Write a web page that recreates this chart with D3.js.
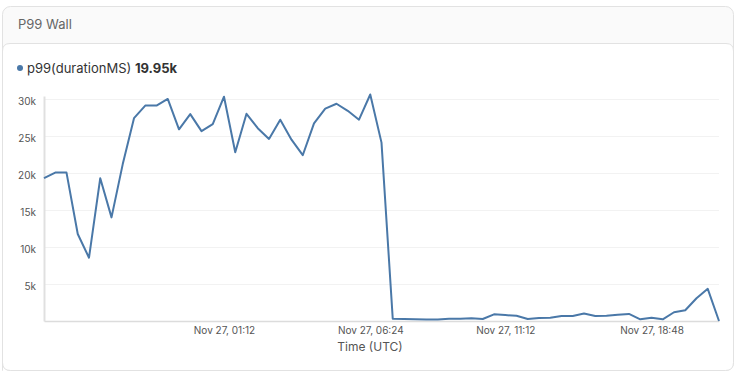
<!DOCTYPE html>
<html>
<head>
<meta charset="utf-8">
<script src="https://cdn.jsdelivr.net/npm/d3@7"></script>
<style>
  body { margin: 0; background: #fff; font-family: Inter, "Open Sans", sans-serif; }
  svg { display: block; }
</style>
</head>
<body>
<div id="chart"></div>
<script>
// valeurs p99 (ms), un point par intervalle
var values = [
  19300, 20050, 20050, 11750, 8550, 19300, 14000, 21200, 27400, 29100,
  29100, 30000, 25900, 27950, 25650, 26600, 30300, 22800, 28000, 26050,
  24600, 27200, 24500, 22400, 26700, 28700, 29350, 28400, 27200, 30600,
  24100, 310, 270, 230, 200, 200, 300, 300, 360, 270,
  900, 800, 700, 270, 400, 450, 680, 680, 1000, 680,
  720, 860, 950, 230, 450, 230, 1180, 1450, 3080, 4350,
  0
];
var xTickIdx = [16, 29, 41, 54];
var xTickLabels = ["Nov 27, 01:12", "Nov 27, 06:24", "Nov 27, 11:12", "Nov 27, 18:48"];
var yTicks = [5000, 10000, 15000, 20000, 25000, 30000];
var yTickLabels = ["5k", "10k", "15k", "20k", "25k", "30k"];

var W = 740, H = 377;
var svg = d3.select("#chart").append("svg").attr("width", W).attr("height", H);

// carte exterieure + entete
svg.append("rect").attr("x", 2.5).attr("y", 6.5).attr("width", 731).attr("height", 364)
  .attr("rx", 8).attr("fill", "#fafafa").attr("stroke", "#e2e2e2");
svg.append("path")
  .attr("d", "M2.5,370.5 L2.5,51 Q2.5,43.5 10,43.5 L726,43.5 Q733.5,43.5 733.5,51 L733.5,362.5 Q733.5,370.5 725.5,370.5 L10.5,370.5 Q2.5,370.5 2.5,362.5 Z")
  .attr("fill", "#fff").attr("stroke", "#e2e2e2");
svg.append("text").attr("x", 18).attr("y", 29).attr("font-size", 13)
  .attr("fill", "#666").text("P99 Wall");

// legende
svg.append("circle").attr("cx", 20).attr("cy", 68).attr("r", 3).attr("fill", "#4a78a8");
var leg = svg.append("text").attr("x", 27).attr("y", 72.5).attr("font-size", 13).attr("fill", "#333");
leg.append("tspan").text("p99(durationMS) ");
leg.append("tspan").attr("font-weight", "bold").text("19.95k");

var x = d3.scaleLinear().domain([0, values.length - 1]).range([44, 719]);
var y = d3.scaleLinear().domain([0, 30400]).range([321, 96]);

// grille
svg.append("g").selectAll("line").data(yTicks).join("line")
  .attr("x1", 44).attr("x2", 719)
  .attr("y1", d => Math.round(y(d)) + 0.5).attr("y2", d => Math.round(y(d)) + 0.5)
  .attr("stroke", "#f2f2f2");

// axe y
var yAxis = svg.append("g").attr("transform", "translate(44,0)")
  .call(d3.axisLeft(y).tickValues(yTicks).tickSize(0).tickPadding(8)
    .tickFormat((d, i) => yTickLabels[i]));
yAxis.select(".domain").attr("stroke", "#e0e0e0").attr("stroke-width", 2);
yAxis.selectAll("text").attr("font-size", 10).attr("fill", "#555").attr("dy", "0.55em")
  .attr("font-family", "Inter, 'Open Sans', sans-serif");

// axe x
var xAxis = svg.append("g").attr("transform", "translate(0,321)")
  .call(d3.axisBottom(x).tickValues(xTickIdx).tickSize(0).tickPadding(6)
    .tickFormat((d, i) => xTickLabels[i]));
xAxis.select(".domain").attr("stroke", "#dcdcdc").attr("stroke-width", 1.5);
xAxis.selectAll("text").attr("font-size", 10).attr("fill", "#555")
  .attr("font-family", "Inter, 'Open Sans', sans-serif");

svg.append("text").attr("x", 370).attr("y", 351).attr("text-anchor", "middle")
  .attr("font-size", 12).attr("fill", "#555").text("Time (UTC)");

// courbe
var line = d3.line().x((d, i) => x(i)).y(d => y(d));
svg.append("path").datum(values).attr("d", line)
  .attr("fill", "none").attr("stroke", "#4a78a8").attr("stroke-width", 2)
  .attr("stroke-linejoin", "round");
</script>
</body>
</html>
